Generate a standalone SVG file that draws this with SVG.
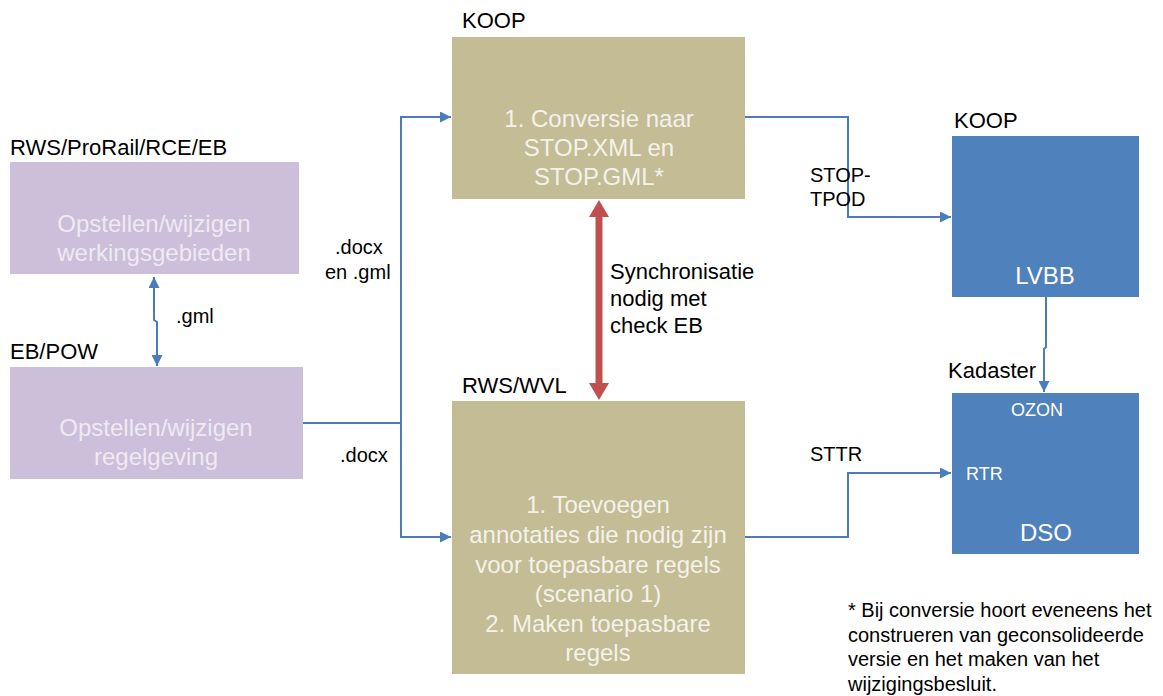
<svg xmlns="http://www.w3.org/2000/svg" width="1163" height="696" viewBox="0 0 1163 696">
<style>
text{font-family:"Liberation Sans",Arial,sans-serif;}
.lbl{font-size:22px;fill:#000;}
.sm{font-size:20px;fill:#000;}
.pt{font-size:24px;fill:#EEEAF3;text-anchor:middle;}
.kt{font-size:24px;fill:#F4F2EA;text-anchor:middle;}
.bt{fill:#FFFFFF;}
.purple{fill:#CBBFDA;}
.khaki{fill:#C3BC95;}
.blue{fill:#4F81BD;}
.conn{fill:none;stroke:#4A7EBB;stroke-width:2;}
</style>
<defs>
<marker id="ah" viewBox="0 0 10 10" refX="10" refY="5" markerWidth="5.5" markerHeight="5.5" orient="auto-start-reverse" markerUnits="strokeWidth">
<path d="M0,0 L10,5 L0,10 z" fill="#4A7EBB"/>
</marker>
</defs>
<rect width="1163" height="696" fill="#FFFFFF"/>

<g id="connectors">
<path class="conn" d="M154,277 L154,320 L157,322 L157,366" marker-start="url(#ah)" marker-end="url(#ah)"/>
<path class="conn" d="M303,423 L401,423 L401,117 L451,117" marker-end="url(#ah)"/>
<path class="conn" d="M401,423 L401,537 L451,537"/>
<path class="conn" d="M401,537 L451,537" marker-end="url(#ah)"/>
<path class="conn" d="M745,117 L848,117 L848,217 L951,217" marker-end="url(#ah)"/>
<path class="conn" d="M745,537 L848,537 L848,473 L951,473" marker-end="url(#ah)"/>
<path class="conn" d="M1046,297 L1046,347 L1044,349 L1044,392" marker-end="url(#ah)"/>
<line x1="599" y1="216" x2="599" y2="384" stroke="#C0504D" stroke-width="7"/>
<polygon points="599,200 609,217 589,217" fill="#C0504D"/>
<polygon points="599,400 609,383 589,383" fill="#C0504D"/>
<text class="sm" x="176" y="323">.gml</text>
<text class="sm" x="335" y="254">.docx</text>
<text class="sm" x="325" y="279">en .gml</text>
<text class="sm" x="340" y="462">.docx</text>
<text class="sm" x="810" y="182">STOP-</text>
<text class="sm" x="810" y="206">TPOD</text>
<text class="sm" x="810" y="461">STTR</text>
<text class="lbl" x="610" y="279">Synchronisatie</text>
<text class="lbl" x="610" y="306">nodig met</text>
<text class="lbl" x="610" y="333">check EB</text>
</g>

<g id="node-werkingsgebieden">
<text class="lbl" x="10" y="155">RWS/ProRail/RCE/EB</text>
<rect class="purple" x="10" y="162" width="289" height="112"/>
<text class="pt" x="154" y="232">Opstellen/wijzigen</text>
<text class="pt" x="154" y="261">werkingsgebieden</text>
</g>

<g id="node-regelgeving">
<text class="lbl" x="10" y="359">EB/POW</text>
<rect class="purple" x="10" y="367" width="293" height="112"/>
<text class="pt" x="156" y="436">Opstellen/wijzigen</text>
<text class="pt" x="156" y="465">regelgeving</text>
</g>

<g id="node-conversie">
<text class="lbl" x="462" y="28">KOOP</text>
<rect class="khaki" x="452" y="37" width="293" height="162"/>
<text class="kt" x="599" y="127">1. Conversie naar</text>
<text class="kt" x="599" y="156">STOP.XML en</text>
<text class="kt" x="599" y="185">STOP.GML*</text>
</g>

<g id="node-toevoegen">
<text class="lbl" x="462" y="393">RWS/WVL</text>
<rect class="khaki" x="452" y="401" width="293" height="273"/>
<text class="kt" x="598" y="513">1. Toevoegen</text>
<text class="kt" x="598" y="543">annotaties die nodig zijn</text>
<text class="kt" x="598" y="573">voor toepasbare regels</text>
<text class="kt" x="598" y="602">(scenario 1)</text>
<text class="kt" x="598" y="632">2. Maken toepasbare</text>
<text class="kt" x="598" y="661">regels</text>
</g>

<g id="node-lvbb">
<text class="lbl" x="954" y="128">KOOP</text>
<rect class="blue" x="952" y="136" width="187" height="161"/>
<text class="bt" x="1045" y="284" font-size="24" text-anchor="middle">LVBB</text>
</g>

<g id="node-dso">
<text class="lbl" x="948" y="378">Kadaster</text>
<rect class="blue" x="952" y="393" width="187" height="161"/>
<text class="bt" x="1037" y="416" font-size="18" text-anchor="middle">OZON</text>
<text class="bt" x="966" y="480" font-size="18">RTR</text>
<text class="bt" x="1046" y="541" font-size="24" text-anchor="middle">DSO</text>
</g>

<g id="footnote">
<text class="sm" x="848" y="617">* Bij conversie hoort eveneens het</text>
<text class="sm" x="848" y="642">construeren van geconsolideerde</text>
<text class="sm" x="848" y="666">versie en het maken van het</text>
<text class="sm" x="848" y="691">wijzigingsbesluit.</text>
</g>
</svg>
